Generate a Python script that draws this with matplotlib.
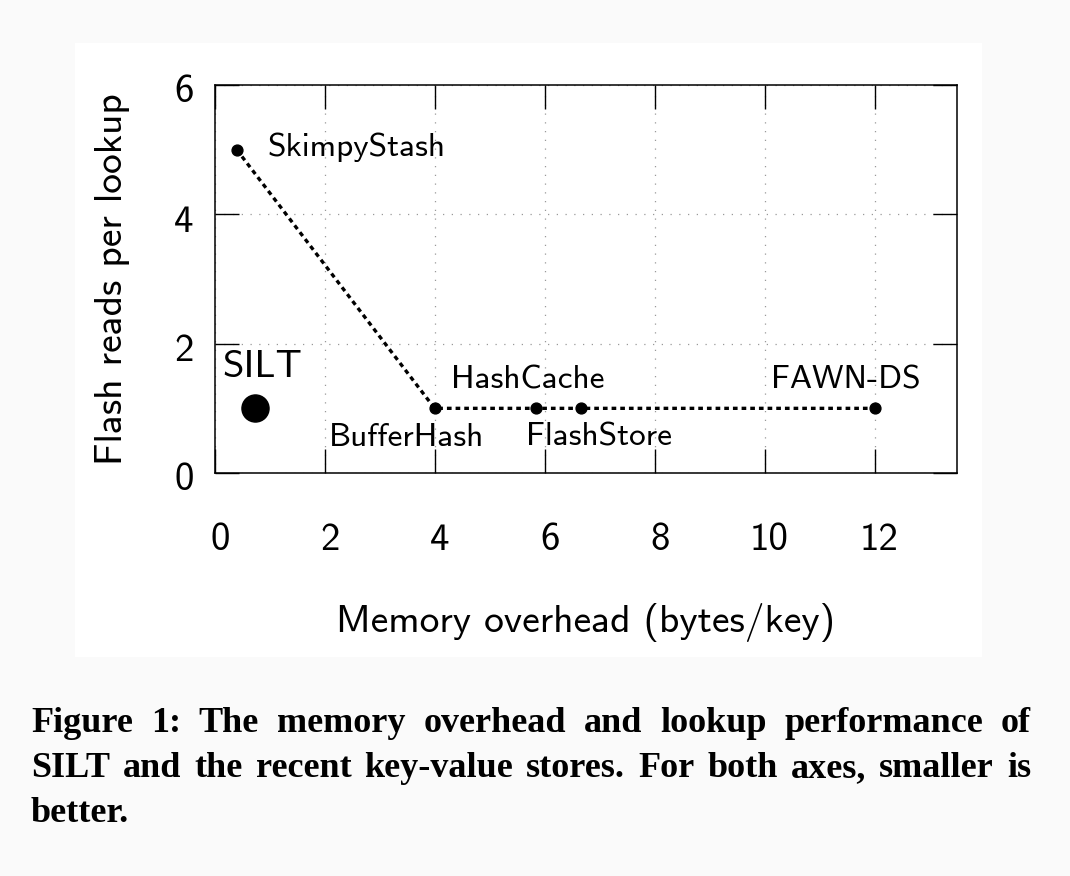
import matplotlib
matplotlib.use('Agg')
from matplotlib import pyplot
from matplotlib.patches import Rectangle
from matplotlib.transforms import ScaledTranslation

# Key-value stores: memory overhead (bytes/key) and flash reads per lookup.
stores = ['SkimpyStash', 'BufferHash', 'HashCache', 'FlashStore', 'FAWN-DS']
memory = [0.4, 4.0, 5.85, 6.67, 12.0]
reads = [5, 1, 1, 1, 1]

silt_name = 'SILT'
silt_memory = 0.73
silt_reads = 1

xticks = [0, 2, 4, 6, 8, 10, 12]
yticks = [0, 2, 4, 6]

caption = ['Figure 1:  The memory overhead and lookup performance of',
           'SILT and the recent key-value stores. For both axes, smaller is',
           'better.']

# Label offsets (pixels) relative to each point, and alignment.
offsets = {'SkimpyStash': (31, 2, 'left'),
           'BufferHash': (-28, -29, 'center'),
           'HashCache': (-9, 28, 'center'),
           'FlashStore': (18, -29, 'center'),
           'FAWN-DS': (-29, 28, 'center')}

pyplot.rc('font', family='cmss10', size=28)
pyplot.rc('axes', unicode_minus=False)
fig = pyplot.figure(figsize=(10.7, 8.76), dpi=100, facecolor='#fafafa')
W, H = 1070, 876

# White panel behind the plot.
fig.patches.append(Rectangle((75 / W, 1 - 657 / H), (982 - 75) / W,
                             (657 - 43) / H, transform=fig.transFigure,
                             facecolor='white', edgecolor='none', zorder=-10))

ax = fig.add_axes([214.7 / W, 1 - 473 / H, (957 - 214.7) / W, (473 - 85) / H])
ax.set_zorder(5)
ax.set_xlim(0, 13.5)
ax.set_ylim(0, 6)
ax.set_xticks(xticks)
ax.set_yticks(yticks)
ax.tick_params(direction='in', length=17, width=1.0, top=True, right=True,
               labelsize=28)
ax.tick_params(axis='x', pad=36)
ax.tick_params(axis='y', pad=15)
for spine in ax.spines.values():
    spine.set_linewidth(1.1)
ax.grid(True, color='#999999', linestyle=(0, (1, 6)), linewidth=0.9)
ax.set_axisbelow(True)

# Tick labels sit a little right / low of their ticks in the original.
for lab in ax.get_xticklabels():
    lab.set_transform(lab.get_transform()
                      + ScaledTranslation(0.05, 0, fig.dpi_scale_trans))
for lab in ax.get_yticklabels():
    lab.set_transform(lab.get_transform()
                      + ScaledTranslation(0, -0.04, fig.dpi_scale_trans))

ax.plot(memory, reads, color='black', linestyle=(0, (1.4, 1.2)),
        linewidth=2.4, marker='o', markersize=7.8, zorder=3)
ax.plot([silt_memory], [silt_reads], color='black', marker='o',
        markersize=19.5, linestyle='none', zorder=3)

for name, x, y in zip(stores, memory, reads):
    dx, dy, ha = offsets[name]
    ax.annotate(name, (x, y), xytext=(dx, dy), textcoords='offset pixels',
                ha=ha, va='center', fontsize=24)
ax.annotate(silt_name, (silt_memory, silt_reads), xytext=(7, 41),
            textcoords='offset pixels', ha='center', va='center', fontsize=28)

ax.set_xlabel('Memory overhead (bytes/key)', fontsize=28.5)
ax.xaxis.set_label_coords(0.5, (473 - 623) / (473 - 85))
ax.xaxis.label.set_va('center')
ax.set_ylabel('Flash reads per lookup', fontsize=28.5)
ax.yaxis.set_label_coords((112 - 214.7) / (957 - 214.7), 0.5)
ax.yaxis.label.set_va('center')

# Caption below the figure panel, justified like the paper.
renderer = fig.canvas.get_renderer()
left, right = 31, 1031
for i, line in enumerate(caption):
    y = 1 - (732 + 45 * i) / H
    words = line.split()
    texts = [fig.text(0, y, w, family='Liberation Serif', weight='bold',
                      fontsize=26, ha='left', va='baseline') for w in words]
    widths = [t.get_window_extent(renderer).width for t in texts]
    if i < len(caption) - 1:
        gap = (right - left - sum(widths)) / (len(words) - 1)
    else:
        gap = 8
    x = left
    for t, w in zip(texts, widths):
        t.set_x(x / W)
        x += w + gap

fig.savefig('out.png', dpi=100, facecolor=fig.get_facecolor())
